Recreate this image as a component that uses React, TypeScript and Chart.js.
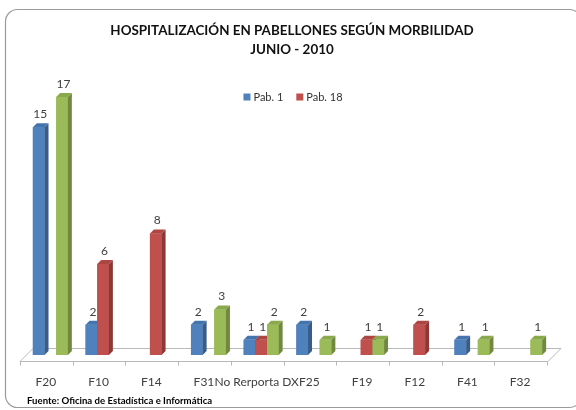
import React, { useEffect, useRef } from "react";
import { Chart, registerables } from "chart.js";

Chart.register(...registerables);

// ---- data ----
const TITLE_LINES = ["HOSPITALIZACIÓN EN PABELLONES SEGÚN MORBILIDAD", "JUNIO - 2010"];
const FOOTER = "Fuente: Oficina de Estadística e Informática";
const CATEGORIES = ["F20", "F10", "F14", "F31", "No Rerporta DX", "F25", "F19", "F12", "F41", "F32"];
const PAB_1 = [15, 2, null, 2, 1, 2, null, null, 1, null];
const PAB_18 = [null, 6, 8, null, 1, null, 1, 2, null, null];
const SERIE_3 = [17, null, null, 3, 2, 1, 1, null, 1, 1];
const SERIES_LABELS = ["Pab. 1", "Pab. 18", ""];
const Y_MAX = 19.3;

// ---- styles ----
const FRONT = ["#4F81BD", "#C0504D", "#9BBB59"];
const SIDE = ["#385D8A", "#8C3836", "#71893F"];
const TOP = ["#4474AD", "#AD4643", "#8AA94C"];
const FONT = "Lato, 'Open Sans', 'DejaVu Sans', sans-serif";
const DEPTH = 4;

function roundRectPath(ctx: CanvasRenderingContext2D, x: number, y: number, w: number, h: number, r: number) {
  ctx.beginPath();
  ctx.moveTo(x + r, y);
  ctx.lineTo(x + w - r, y);
  ctx.arcTo(x + w, y, x + w, y + r, r);
  ctx.lineTo(x + w, y + h - r);
  ctx.arcTo(x + w, y + h, x + w - r, y + h, r);
  ctx.lineTo(x + r, y + h);
  ctx.arcTo(x, y + h, x, y + h - r, r);
  ctx.lineTo(x, y + r);
  ctx.arcTo(x, y, x + r, y, r);
  ctx.closePath();
}

const decorPlugin = {
  id: "decor3d",
  beforeDraw(chart: any) {
    const ctx: CanvasRenderingContext2D = chart.ctx;
    ctx.save();
    ctx.fillStyle = "#ffffff";
    ctx.fillRect(0, 0, chart.width, chart.height);
    // outer rounded frame
    ctx.strokeStyle = "#9a9a9a";
    ctx.lineWidth = 1.2;
    roundRectPath(ctx, 5.5, 9.5, 576, 398, 12);
    ctx.stroke();
    // 3D floor
    const { left, right, bottom } = chart.chartArea;
    const fl = left - 4, fr = right - 3, fy = Math.round(bottom + 6) + 0.5;
    const bl = left + 9, br = right + 10, by = Math.round(bottom - 7) + 0.5;
    ctx.strokeStyle = "#b8b8b8";
    ctx.lineWidth = 1;
    ctx.beginPath();
    ctx.moveTo(fl, fy);
    ctx.lineTo(fr, fy);
    ctx.lineTo(br, by);
    ctx.lineTo(bl, by);
    ctx.closePath();
    ctx.stroke();
    // tick marks on the front edge
    const n = CATEGORIES.length;
    const step = (right - left) / n;
    ctx.beginPath();
    for (let i = 0; i <= n; i++) {
      const x = Math.round(fl + step * i) + 0.5;
      ctx.moveTo(x, fy);
      ctx.lineTo(x, fy + 4);
    }
    ctx.stroke();
    ctx.restore();
  },
  afterDatasetsDraw(chart: any) {
    const ctx: CanvasRenderingContext2D = chart.ctx;
    const datasets = chart.data.datasets;
    ctx.save();
    // draw bars in left-to-right order so each front face covers the previous side face
    for (let i = 0; i < CATEGORIES.length; i++) {
      for (let d = 0; d < datasets.length; d++) {
        const v = datasets[d].data[i];
        if (v === null || v === undefined) continue;
        const el = chart.getDatasetMeta(d).data[i];
        const x0 = el.x - el.width / 2;
        const x1 = el.x + el.width / 2;
        const y = el.y;
        const base = el.base;
        ctx.fillStyle = FRONT[d];
        ctx.fillRect(x0, y, x1 - x0, base - y);
        ctx.fillStyle = SIDE[d];
        ctx.beginPath();
        ctx.moveTo(x1, y);
        ctx.lineTo(x1 + DEPTH, y - DEPTH);
        ctx.lineTo(x1 + DEPTH, base - DEPTH);
        ctx.lineTo(x1, base);
        ctx.closePath();
        ctx.fill();
        ctx.fillStyle = TOP[d];
        ctx.beginPath();
        ctx.moveTo(x0, y);
        ctx.lineTo(x0 + DEPTH, y - DEPTH);
        ctx.lineTo(x1 + DEPTH, y - DEPTH);
        ctx.lineTo(x1, y);
        ctx.closePath();
        ctx.fill();
      }
    }
    // data labels
    ctx.fillStyle = "#404040";
    ctx.font = `12px ${FONT}`;
    ctx.textAlign = "center";
    ctx.textBaseline = "middle";
    for (let d = 0; d < datasets.length; d++) {
      const meta = chart.getDatasetMeta(d);
      datasets[d].data.forEach((v: number | null, i: number) => {
        if (v === null || v === undefined) return;
        const el = meta.data[i];
        ctx.fillText(String(v), el.x + 1.5, el.y - 13);
      });
    }
    ctx.restore();
  },
  afterDraw(chart: any) {
    const ctx: CanvasRenderingContext2D = chart.ctx;
    const xScale = chart.scales.x;
    ctx.save();
    // title
    ctx.fillStyle = "#111111";
    ctx.font = `bold 13.4px ${FONT}`;
    ctx.textAlign = "center";
    ctx.textBaseline = "middle";
    ctx.fillText(TITLE_LINES[0], 292, 31);
    ctx.fillText(TITLE_LINES[1], 292, 50);
    // legend (series with a label)
    ctx.font = `11px ${FONT}`;
    const items = chart.data.datasets
      .map((ds: any, i: number) => ({ label: ds.label, color: FRONT[i] }))
      .filter((it: any) => it.label);
    const box = 7, gapText = 3, gapItem = 13;
    const widths = items.map((it: any) => box + gapText + ctx.measureText(it.label).width);
    const total = widths.reduce((a: number, b: number) => a + b, 0) + gapItem * (items.length - 1);
    let lx = 293 - total / 2;
    const ly = 97;
    ctx.textAlign = "left";
    items.forEach((it: any, k: number) => {
      ctx.fillStyle = it.color;
      ctx.fillRect(lx, ly - box / 2, box, box);
      ctx.fillStyle = "#333333";
      ctx.fillText(it.label, lx + box + gapText, ly + 0.5);
      lx += widths[k] + gapItem;
    });
    // category labels
    ctx.fillStyle = "#404040";
    ctx.font = `12px ${FONT}`;
    ctx.textAlign = "center";
    CATEGORIES.forEach((c, i) => {
      ctx.fillText(c, xScale.getPixelForValue(i) - 4.5, 382);
    });
    // footer
    ctx.fillStyle = "#000000";
    ctx.font = `bold 9.6px ${FONT}`;
    ctx.textAlign = "left";
    ctx.fillText(FOOTER, 27, 401);
    ctx.restore();
  },
};

export default function App() {
  const canvasRef = useRef<HTMLCanvasElement | null>(null);

  useEffect(() => {
    document.body.style.margin = "0";
    const canvas = canvasRef.current;
    if (!canvas) return;
    const chart = new Chart(canvas, {
      type: "bar",
      data: {
        labels: CATEGORIES,
        datasets: [
          { label: SERIES_LABELS[0], data: PAB_1, backgroundColor: FRONT[0] },
          { label: SERIES_LABELS[1], data: PAB_18, backgroundColor: FRONT[1] },
          { label: SERIES_LABELS[2], data: SERIE_3, backgroundColor: FRONT[2] },
        ],
      },
      options: {
        responsive: false,
        maintainAspectRatio: false,
        devicePixelRatio: 1,
        animation: false,
        layout: { padding: { left: 24, right: 25, top: 62, bottom: 55 } },
        datasets: { bar: { categoryPercentage: 0.664, barPercentage: 1.0 } },
        scales: {
          x: { display: false, offset: true },
          y: { display: false, min: 0, max: Y_MAX },
        },
        plugins: {
          legend: { display: false },
          title: { display: false },
          tooltip: { enabled: false },
        },
      },
      plugins: [decorPlugin],
    });
    return () => chart.destroy();
  }, []);

  return (
    <div style={{ width: 576, height: 410 }}>
      <canvas ref={canvasRef} width={576} height={410} style={{ display: "block" }} />
    </div>
  );
}
